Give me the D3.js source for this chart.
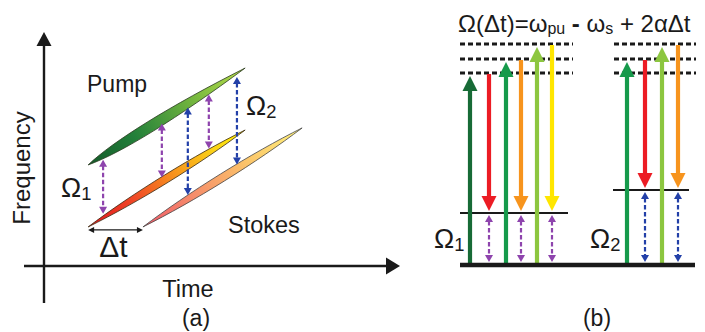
<!DOCTYPE html>
<html>
<head>
<meta charset="utf-8">
<script src="https://cdn.jsdelivr.net/npm/d3@7"></script>
<style>
  body { margin: 0; background: #fff; }
  svg { display: block; }
  text { font-family: Arial, "Liberation Sans", sans-serif; fill: #1a1a1a; }
</style>
</head>
<body>
<svg id="chart" width="705" height="332"></svg>
<script>
// ---------- Panel (a): chirped pulses in the time–frequency plane (arb. units) ----------
const pulseNames = ["pump", "stokes", "stokesDelayed"];
const pulseT0 = [12.4, 12.4, 27.8];
const pulseT1 = [56.5, 56.5, 72.5];
const pulseF0 = [43.2, 16.7, 16.7];
const pulseF1 = [84.6, 58.1, 59.0];

// Raman probes: time of each vertical pump–Stokes pair and which Stokes pulse it reaches
const probeTimes  = [16.6, 33.1, 40.4, 46.3, 54.2];
const probeTarget = [1, 1, 2, 1, 2];   // 1 -> Ω1 (undelayed Stokes), 2 -> Ω2 (delayed Stokes)

// ---------- Panel (b): energy-level diagram (arb. energy units) ----------
const groundLevel   = 0;
const ramanLevels   = [52, 75];          // Ω1, Ω2
const virtualLevels = [192, 206, 221];

// Ω1 group: pump arrows up to a virtual level, Stokes arrows down to Ω1
const pumpPos1    = [10, 46, 77];
const pumpVirt1   = [0, 1, 2];
const stokesPos1  = [29, 61, 92];
const stokesVirt1 = [0, 1, 2];
// Ω2 group
const pumpPos2    = [167, 202];
const pumpVirt2   = [1, 2];
const stokesPos2  = [185, 218];
const stokesVirt2 = [1, 2];

// horizontal extents of the drawn levels
const groundSpan   = [0, 235];
const ramanSpans   = [[0, 108], [153, 229]];
const virtualSpans = [[0, 113], [154, 236]];

// ---------- styles ----------
const col = {
  darkGreen: "#176b36", green: "#169a4b", lightGreen: "#8cc63f",
  red: "#ec1c24", orange: "#f7941d", yellow: "#ffe600",
  purple: "#8e44ad", blue: "#2340a8", ink: "#1a1a1a"
};
const pumpColors1   = [col.darkGreen, col.green, col.lightGreen];
const stokesColors1 = [col.red, col.orange, col.yellow];
const pumpColors2   = [col.green, col.lightGreen];
const stokesColors2 = [col.red, col.orange];

const pulseStyle = {
  pump: { half: 5.4, c1: 0.18, c2: 0.55,
          stops: [[0, "#145a2a"], [0.3, "#23803a"], [0.75, "#86c240"], [1, "#b8da4c"]], stroke: "#2a3a20" },
  stokes: { half: 4.0, c1: 0.3, c2: 0.7,
          stops: [[0, "#e0141e"], [0.3, "#f04a26"], [0.55, "#f7941d"], [0.8, "#fbd318"], [1, "#fff200"]], stroke: "#3a2a10" },
  stokesDelayed: { half: 4.0, c1: 0.3, c2: 0.7,
          stops: [[0, "#f05a6a"], [0.35, "#f6926a"], [0.65, "#fbc46a"], [1, "#fff27a"]], stroke: "#444" }
};

const svg = d3.select("#chart");
const defs = svg.append("defs");

// ---------- scales ----------
const xT = d3.scaleLinear().domain([0, 100]).range([44, 400]);   // time
const yF = d3.scaleLinear().domain([0, 100]).range([266, 32]);   // frequency
const xB = d3.scaleLinear().domain([0, 235]).range([460, 695]);  // panel (b) positions
const yE = d3.scaleLinear().domain([0, 221]).range([265, 44]);   // energy

// ---------- helpers ----------
function arrowHead(g, x, y, dir, w, len, fill) {
  // dir: -1 points up, +1 points down, tip at (x, y)
  g.append("path")
    .attr("d", `M${x},${y} L${x - w / 2},${y - dir * len} L${x + w / 2},${y - dir * len} Z`)
    .attr("fill", fill);
}
function hArrowHead(g, x, y, dir, w, len, fill) {
  // dir: -1 points left, +1 points right
  g.append("path")
    .attr("d", `M${x},${y} L${x - dir * len},${y - w / 2} L${x - dir * len},${y + w / 2} Z`)
    .attr("fill", fill);
}
function dashedDouble(g, x, y1, y2, color) {
  const head = 6;
  g.append("line").attr("x1", x).attr("x2", x)
    .attr("y1", y1 + head).attr("y2", y2 - head)
    .attr("stroke", color).attr("stroke-width", 2.2).attr("stroke-dasharray", "4.5,2.5");
  arrowHead(g, x, y1, -1, 8, 7, color);
  arrowHead(g, x, y2, 1, 8, 7, color);
}
function omegaLabel(g, x, y, size, sub) {
  const t = g.append("text").attr("x", x).attr("y", y).attr("font-size", size);
  t.append("tspan").text("Ω");
  t.append("tspan").attr("font-size", size * 0.68).attr("dy", size * 0.12).text(sub);
}

// ================= Panel (a) =================
const ga = svg.append("g");

// axes
ga.append("line").attr("x1", xT(0)).attr("x2", xT(0)).attr("y1", 303).attr("y2", yF(100) + 10)
  .attr("stroke", col.ink).attr("stroke-width", 2.4);
arrowHead(ga, xT(0), yF(100), -1, 15, 14, col.ink);
ga.append("line").attr("x1", 24).attr("x2", xT(100) - 10).attr("y1", yF(0)).attr("y2", yF(0))
  .attr("stroke", col.ink).attr("stroke-width", 2.4);
hArrowHead(ga, xT(100), yF(0), 1, 17, 14, col.ink);

// pulses
function spindlePath(x0, y0, x1, y1, s) {
  const dx = x1 - x0, dy = y1 - y0, L = Math.hypot(dx, dy);
  const ux = dx / L, uy = dy / L, nx = -uy, ny = ux;
  const c = s.half / 0.75;
  const p = (t, o) => [x0 + ux * L * t + nx * o, y0 + uy * L * t + ny * o];
  const a1 = p(s.c1, c), a2 = p(s.c2, c), b2 = p(s.c2, -c), b1 = p(s.c1, -c);
  return `M${x0},${y0} C${a1} ${a2} ${x1},${y1} C${b2} ${b1} ${x0},${y0} Z`;
}
pulseNames.forEach((name, i) => {
  const s = pulseStyle[name];
  const x0 = xT(pulseT0[i]), y0 = yF(pulseF0[i]), x1 = xT(pulseT1[i]), y1 = yF(pulseF1[i]);
  const gid = "grad-" + name;
  const lg = defs.append("linearGradient").attr("id", gid)
    .attr("gradientUnits", "userSpaceOnUse")
    .attr("x1", x0).attr("y1", y0).attr("x2", x1).attr("y2", y1);
  s.stops.forEach(([o, c]) => lg.append("stop").attr("offset", o).attr("stop-color", c));
  ga.append("path").attr("d", spindlePath(x0, y0, x1, y1, s))
    .attr("fill", `url(#${gid})`).attr("stroke", s.stroke).attr("stroke-width", 0.8)
    .attr("stroke-linejoin", "round");
});

// frequency of pulse i at time t (linear chirp)
const freqAt = (i, t) => pulseF0[i] + (t - pulseT0[i]) * (pulseF1[i] - pulseF0[i]) / (pulseT1[i] - pulseT0[i]);

// probe arrows between pump and Stokes
probeTimes.forEach((t, k) => {
  const tgt = probeTarget[k];
  dashedDouble(ga, xT(t), yF(freqAt(0, t)) + 4, yF(freqAt(tgt, t)) - 4,
    tgt === 1 ? col.purple : col.blue);
});

// delay arrow
const dtY = yF(pulseF0[1]) + 3;
const dtX0 = xT(pulseT0[1]), dtX1 = xT(pulseT0[2]);
ga.append("line").attr("x1", dtX0 + 5).attr("x2", dtX1 - 5).attr("y1", dtY).attr("y2", dtY)
  .attr("stroke", col.ink).attr("stroke-width", 1.4);
hArrowHead(ga, dtX0, dtY, -1, 6, 6, col.ink);
hArrowHead(ga, dtX1, dtY, 1, 6, 6, col.ink);

// labels
ga.append("text").attr("x", dtX0 + 11).attr("y", 257).attr("font-size", 30).text("Δt");
ga.append("text").attr("x", 87).attr("y", 92).attr("font-size", 23).text("Pump");
ga.append("text").attr("x", 228).attr("y", 233).attr("font-size", 23.5).text("Stokes");
omegaLabel(ga, 61, 197, 27, "1");
omegaLabel(ga, 246, 115, 27, "2");
ga.append("text").attr("x", 188).attr("y", 297).attr("text-anchor", "middle").attr("font-size", 23.5).text("Time");
ga.append("text").attr("x", 196).attr("y", 326).attr("text-anchor", "middle").attr("font-size", 23).text("(a)");
ga.append("text").attr("transform", "translate(30,168) rotate(-90)")
  .attr("text-anchor", "middle").attr("font-size", 24).text("Frequency");

// ================= Panel (b) =================
const gb = svg.append("g");

// virtual levels (dotted)
virtualSpans.forEach(sp => {
  virtualLevels.forEach(v => {
    gb.append("line").attr("x1", xB(sp[0])).attr("x2", xB(sp[1]))
      .attr("y1", yE(v)).attr("y2", yE(v))
      .attr("stroke", col.ink).attr("stroke-width", 3).attr("stroke-dasharray", "5,3");
  });
});

// Raman levels
ramanLevels.forEach((lv, i) => {
  gb.append("line").attr("x1", xB(ramanSpans[i][0])).attr("x2", xB(ramanSpans[i][1]))
    .attr("y1", yE(lv)).attr("y2", yE(lv)).attr("stroke", col.ink).attr("stroke-width", 1.8);
});

// solid transition arrows
const HEAD_W = 15, HEAD_L = 15, SHAFT = 4.2;
function upArrow(x, fromE, toE, color) {
  const yb = yE(fromE), yt = yE(toE) + 3;
  gb.append("line").attr("x1", x).attr("x2", x).attr("y1", yb).attr("y2", yt + HEAD_L - 1)
    .attr("stroke", color).attr("stroke-width", SHAFT);
  arrowHead(gb, x, yt, -1, HEAD_W, HEAD_L, color);
}
function downArrow(x, fromE, toE, color) {
  const yt = yE(fromE) + 1, yb = yE(toE) - 2;
  gb.append("line").attr("x1", x).attr("x2", x).attr("y1", yt).attr("y2", yb - HEAD_L + 1)
    .attr("stroke", color).attr("stroke-width", SHAFT);
  arrowHead(gb, x, yb, 1, HEAD_W, HEAD_L, color);
}
pumpPos1.forEach((p, i) => upArrow(xB(p), groundLevel, virtualLevels[pumpVirt1[i]], pumpColors1[i]));
stokesPos1.forEach((p, i) => downArrow(xB(p), virtualLevels[stokesVirt1[i]], ramanLevels[0], stokesColors1[i]));
pumpPos2.forEach((p, i) => upArrow(xB(p), groundLevel, virtualLevels[pumpVirt2[i]], pumpColors2[i]));
stokesPos2.forEach((p, i) => downArrow(xB(p), virtualLevels[stokesVirt2[i]], ramanLevels[1], stokesColors2[i]));

// coherence arrows under each Stokes arrow
stokesPos1.forEach(p => dashedDouble(gb, xB(p), yE(ramanLevels[0]) + 2, yE(groundLevel) - 3, col.purple));
stokesPos2.forEach(p => dashedDouble(gb, xB(p), yE(ramanLevels[1]) + 2, yE(groundLevel) - 3, col.blue));

// ground level
gb.append("line").attr("x1", xB(groundSpan[0])).attr("x2", xB(groundSpan[1]))
  .attr("y1", yE(groundLevel)).attr("y2", yE(groundLevel))
  .attr("stroke", col.ink).attr("stroke-width", 4.5);

// labels
omegaLabel(gb, 434, 248, 27, "1");
omegaLabel(gb, 590, 248, 27, "2");

const title = gb.append("text").attr("x", 458).attr("y", 32).attr("font-size", 24);
title.append("tspan").text("Ω(Δt)=ω");
title.append("tspan").attr("font-size", 16).attr("dy", 2).text("pu");
title.append("tspan").attr("dy", -2).attr("font-weight", "bold").text(" -  ");
title.append("tspan").text("ω");
title.append("tspan").attr("font-size", 16).attr("dy", 2).text("s");
title.append("tspan").attr("dy", -2).text(" + 2αΔt");

gb.append("text").attr("x", 597).attr("y", 326).attr("text-anchor", "middle").attr("font-size", 23).text("(b)");
</script>
</body>
</html>
